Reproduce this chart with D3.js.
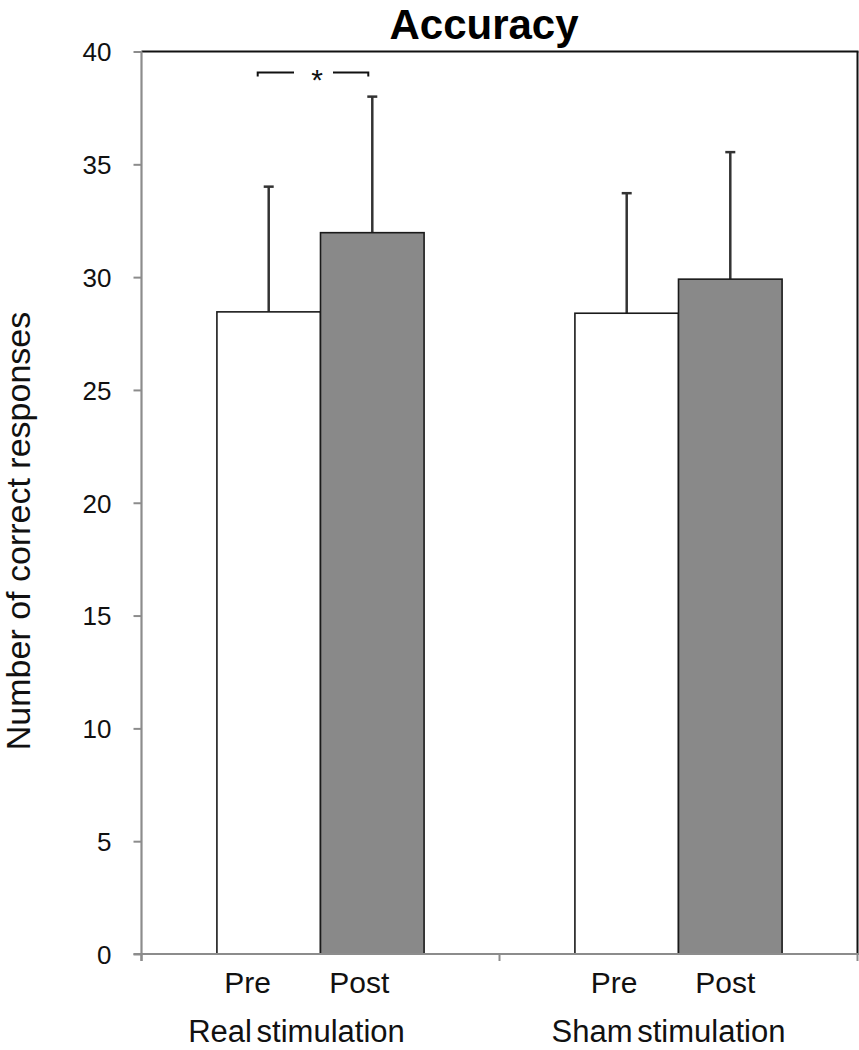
<!DOCTYPE html>
<html>
<head>
<meta charset="utf-8">
<script src="https://cdn.jsdelivr.net/npm/d3@7"></script>
<style>
  html, body { margin: 0; padding: 0; background: #fff; }
  svg { display: block; font-family: "Liberation Sans", Arial, sans-serif; }
</style>
</head>
<body>
<svg id="chart" width="859" height="1050"></svg>
<script>
const groups = ["Real stimulation", "Sham stimulation"];
const conditions = ["Pre", "Post"];
const means = [[28.46, 31.97], [28.40, 29.91]];
const errors = [[5.55, 6.03], [5.32, 5.63]];
const yTicks = [0, 5, 10, 15, 20, 25, 30, 35, 40];
const fills = { Pre: "#ffffff", Post: "#898989" };

(function () {
const svg = d3.select("#chart");
const pLeft = 141.5, pRight = 857.5, pTop = 51.5, pBottom = 954;

const y = d3.scaleLinear().domain([0, 40]).range([pBottom, pTop]);
const x0 = d3.scaleBand().domain(groups).range([pLeft, pRight]).paddingInner(0).paddingOuter(0);
const x1 = d3.scaleBand().domain(conditions).range([0, x0.bandwidth()]).paddingInner(0).paddingOuter(0.728);

// plot frame top/right (black)
svg.append("line").attr("x1", pLeft).attr("x2", pRight + 1).attr("y1", pTop).attr("y2", pTop)
  .attr("stroke", "#111").attr("stroke-width", 1.8);
svg.append("line").attr("x1", pRight).attr("x2", pRight).attr("y1", pTop).attr("y2", pBottom)
  .attr("stroke", "#111").attr("stroke-width", 2);

// bars
const data = [];
groups.forEach((g, gi) => conditions.forEach((c, ci) => data.push({ g, c, v: means[gi][ci], e: errors[gi][ci] })));

const barG = svg.append("g");
data.forEach(d => {
  const bx = x0(d.g) + x1(d.c);
  const bw = x1.bandwidth();
  const cx = bx + bw / 2;
  barG.append("line").attr("x1", cx).attr("x2", cx).attr("y1", y(d.v)).attr("y2", y(d.v + d.e))
    .attr("stroke", "#333").attr("stroke-width", 2.5);
  barG.append("line").attr("x1", cx - 5).attr("x2", cx + 5).attr("y1", y(d.v + d.e)).attr("y2", y(d.v + d.e))
    .attr("stroke", "#333").attr("stroke-width", 2.5);
  barG.append("rect").attr("x", bx).attr("y", y(d.v)).attr("width", bw).attr("height", y(0) - y(d.v))
    .attr("fill", fills[d.c]).attr("stroke", "#1a1a1a").attr("stroke-width", 1.6);
});

// y axis
const yAxis = d3.axisLeft(y).tickValues(yTicks).tickSize(8).tickPadding(22);
const ya = svg.append("g").attr("transform", `translate(${pLeft},0)`).call(yAxis);
ya.select(".domain").attr("stroke", "#8c8c8c").attr("stroke-width", 2.2).attr("d", `M0,${pBottom + 7}V${pTop}`);
ya.selectAll(".tick line").attr("stroke", "#8c8c8c").attr("stroke-width", 2);
ya.selectAll(".tick text").attr("font-size", 26).attr("fill", "#111")
  .attr("font-family", "'Liberation Sans', Arial, sans-serif").attr("dy", "0.36em");

// x axis
const xTicksPos = [pLeft, x0(groups[1]), pRight];
svg.append("line").attr("x1", pLeft - 8).attr("x2", pRight + 1.5).attr("y1", pBottom).attr("y2", pBottom)
  .attr("stroke", "#8c8c8c").attr("stroke-width", 2.2);
xTicksPos.forEach(px => {
  svg.append("line").attr("x1", px).attr("x2", px).attr("y1", pBottom).attr("y2", pBottom + 7)
    .attr("stroke", "#8c8c8c").attr("stroke-width", 2);
});

// condition labels
const condOffset = { "Real stimulation": { Pre: -21, Post: -13 }, "Sham stimulation": { Pre: -12.5, Post: -5 } };
data.forEach(d => {
  const cx = x0(d.g) + x1(d.c) + x1.bandwidth() / 2 + condOffset[d.g][d.c];
  svg.append("text").attr("x", cx).attr("y", 993).attr("text-anchor", "middle")
    .attr("font-size", 30).attr("fill", "#111").text(d.c);
});
// group labels
const groupOffset = { "Real stimulation": -24, "Sham stimulation": -10 };
groups.forEach(g => {
  svg.append("text").attr("x", x0(g) + x0.bandwidth() / 2 + groupOffset[g]).attr("y", 1042)
    .attr("text-anchor", "middle").attr("font-size", 31).attr("word-spacing", -4).attr("fill", "#111").text(g);
});

// title
svg.append("text").attr("x", 484).attr("y", 39).attr("text-anchor", "middle")
  .attr("font-size", 42).attr("font-weight", "bold").attr("fill", "#000").text("Accuracy");

// y title
svg.append("text").attr("transform", `translate(30,${(305 + 757) / 2}) rotate(-90)`)
  .attr("text-anchor", "middle").attr("font-size", 34).attr("fill", "#111").text("Number of correct responses");

// significance bracket
const preC = x0(groups[0]) + x1("Pre") + x1.bandwidth() / 2;
const postC = x0(groups[0]) + x1("Post") + x1.bandwidth() / 2;
const by = 72.5;
const bl = preC - 11, br = postC - 4, mid = (bl + br) / 2;
const br1 = svg.append("g").attr("stroke", "#111").attr("stroke-width", 2).attr("fill", "none");
br1.append("path").attr("d", `M${bl},${by + 4}V${by}H${mid - 19}`);
br1.append("path").attr("d", `M${mid + 20},${by}H${br}V${by + 4}`);
svg.append("text").attr("x", mid + 4).attr("y", by + 17).attr("text-anchor", "middle")
  .attr("font-size", 30).attr("fill", "#111").text("*");
})();
</script>
</body>
</html>
